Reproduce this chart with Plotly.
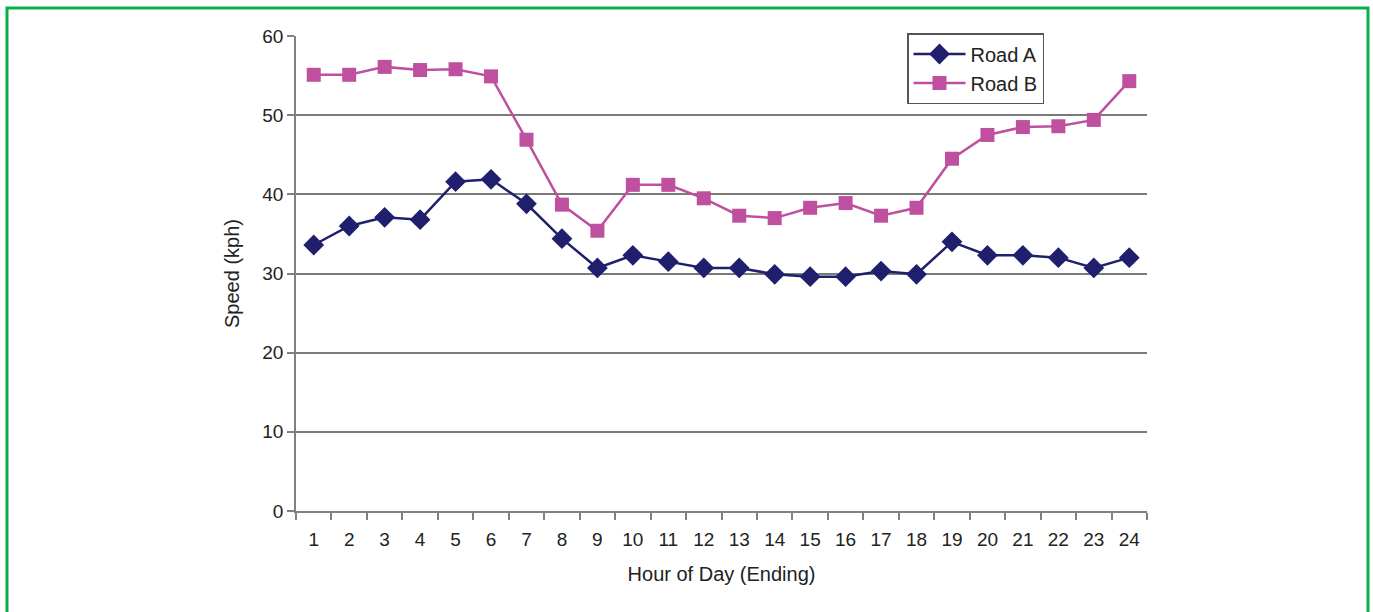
import plotly.graph_objects as go

hours = [str(h) for h in range(1, 25)]
road_a = [33.6, 36.0, 37.1, 36.8, 41.6, 41.9, 38.8, 34.4, 30.7, 32.3, 31.5, 30.7,
          30.7, 29.9, 29.6, 29.6, 30.3, 29.9, 34.0, 32.3, 32.3, 32.0, 30.7, 32.0]
road_b = [55.1, 55.1, 56.1, 55.7, 55.8, 54.9, 46.9, 38.7, 35.4, 41.2, 41.2, 39.5,
          37.3, 37.0, 38.3, 38.9, 37.3, 38.3, 44.5, 47.5, 48.5, 48.6, 49.4, 54.3]

FONT = "Liberation Sans, Arial, sans-serif"
fig = go.Figure()
fig.add_trace(go.Scatter(x=hours, y=road_a, name="Road A", mode="lines+markers",
                         line=dict(color="#1F1F6E", width=2.5),
                         marker=dict(symbol="diamond", size=16, color="#1F1F6E")))
fig.add_trace(go.Scatter(x=hours, y=road_b, name="Road B", mode="lines+markers",
                         line=dict(color="#BF4F9F", width=2.5),
                         marker=dict(symbol="square", size=14, color="#BF4F9F")))

L, R, T, B = 296, 1147, 36, 511
W, H = 1373, 612
pw, ph = R - L, B - T

def px(x):
    return (x - L) / pw

def py(y):
    return (B - y) / ph

fig.update_layout(
    width=W, height=H,
    margin=dict(l=L, r=W - R, t=T, b=H - B, pad=0),
    paper_bgcolor="white", plot_bgcolor="white",
    font=dict(family=FONT, size=19, color="#222222"),
    showlegend=True,
    legend=dict(x=px(907), y=py(33), xanchor="left", yanchor="top",
                bgcolor="white", bordercolor="#555555", borderwidth=1.5,
                font=dict(size=20, family=FONT), tracegroupgap=0,
                itemwidth=52),
    xaxis=dict(type="category", range=[-0.5, 23.5], showgrid=False, showline=True,
               linecolor="#808080", linewidth=1.8,
               ticks="outside", tickson="boundaries", ticklen=7, tickcolor="#808080", tickwidth=1.5,
               ticklabelstandoff=10,
               tickfont=dict(size=19), title=dict(text="Hour of Day (Ending)", font=dict(size=20), standoff=18),
               zeroline=False),
    yaxis=dict(range=[0, 60], dtick=10, showgrid=True, gridcolor="#7a7a7a", gridwidth=1.8,
               showline=True, linecolor="#808080", linewidth=1.8,
               ticks="outside", ticklen=7, tickcolor="#808080", tickwidth=1.5,
               tickfont=dict(size=19), title=dict(text="Speed (kph)", font=dict(size=20), standoff=17),
               zeroline=False),
    shapes=[dict(type="rect", xref="paper", yref="paper",
                 x0=px(7), x1=px(1368), y0=py(8), y1=py(700),
                 line=dict(color="#0AAF48", width=3), fillcolor="rgba(0,0,0,0)", layer="below")],
)

fig.write_html("out.html", config={"displayModeBar": False},
               post_script="document.body.style.margin='0';document.body.style.overflow='hidden';")
